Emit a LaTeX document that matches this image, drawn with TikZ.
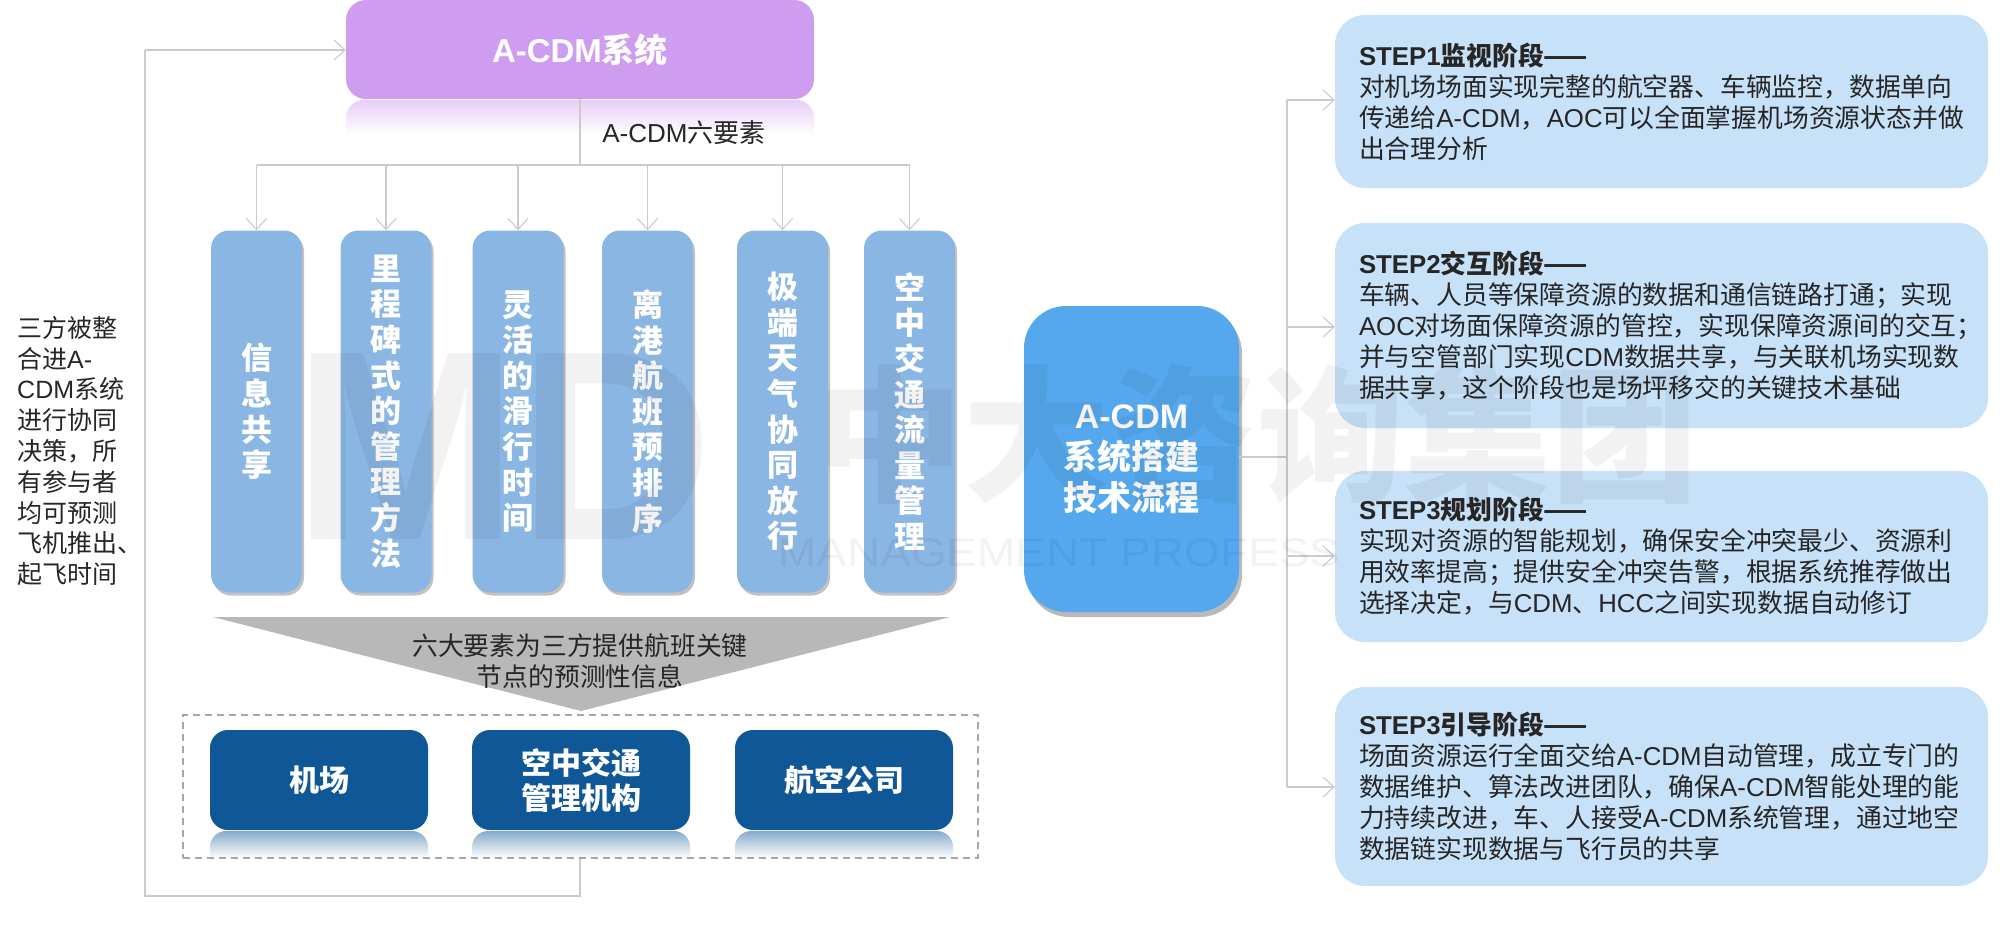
\documentclass[tikz,border=0pt]{standalone}
\usepackage{fontspec}
\setmainfont{Noto Sans CJK SC}
\newfontfamily\latinfont{Liberation Sans}
\newcommand{\lat}[1]{{\latinfont #1}}
\usetikzlibrary{arrows.meta,positioning,shadows,fadings}
\definecolor{linegray}{HTML}{CBCBCB}
\definecolor{topviolet}{HTML}{CE9DF0}
\definecolor{colblue}{HTML}{8AB6E3}
\definecolor{midblue}{HTML}{55A8EE}
\definecolor{navyblue}{HTML}{0F5796}
\definecolor{stepblue}{HTML}{C7E1F8}
\definecolor{inkgray}{HTML}{262626}
\tikzset{
    conn/.style={draw=linegray, line width=1.2pt},
    connarrow/.style={conn, -{Straight Barb[length=11pt,width=20pt,line width=1.1pt]}},
    columnbox/.style={rounded corners=18pt, fill=colblue, minimum width=91pt, minimum height=362pt,
        text=white, align=center, font=\fontsize{31}{35.6}\selectfont\bfseries,
        drop shadow={shadow xshift=2pt, shadow yshift=-3pt, fill=black!40, opacity=.6}},
    partybox/.style={rounded corners=18pt, fill=navyblue, minimum width=218pt, minimum height=100pt,
        text=white, align=center, font=\fontsize{30}{35}\selectfont\bfseries},
    stepbox/.style={rounded corners=30pt, fill=stepblue, minimum width=653pt},
    steptext/.style={align=left, inner sep=0pt, text=inkgray, font=\fontsize{25.8}{31}\selectfont},
    mirror/.style={fill=#1, path fading=south, fill opacity=.5},
    stamp/.style={inner sep=0pt, text=black, text opacity=.05, font=\latinfont\bfseries},
}
\begin{document}
\begin{tikzpicture}[x=1pt, y=-1pt]
    \useasboundingbox (0,0) rectangle (2000,931);
    % reflections under the boxes
    \fill[mirror=topviolet] (346,135) [rounded corners=18pt] -- (346,100) -- (814,100) [sharp corners] -- (814,135) -- cycle;
    \foreach \xa/\xb in {210/428, 472/690, 735/953} {
        \fill[mirror=navyblue] (\xa,858) [rounded corners=16pt] -- (\xa,831) -- (\xb,831) [sharp corners] -- (\xb,858) -- cycle;
    }
    % top box
    \node[rounded corners=20pt, fill=topviolet, minimum width=468pt, minimum height=99pt, text=white,
        font=\fontsize{33}{36}\selectfont\bfseries] (acdm) at (580,49.5) {\lat{A-CDM}系统};
    \node[text=inkgray, font=\fontsize{26}{30}\selectfont] (sixlabel) at (684,133) {\lat{A-CDM}六要素};
    % the six columns
    \foreach \name/\cx/\txt in {
        share/256.5/信\\息\\共\\享,
        mile/386/里\\程\\碑\\式\\的\\管\\理\\方\\法,
        taxi/518/灵\\活\\的\\滑\\行\\时\\间,
        depart/647.5/离\\港\\航\\班\\预\\排\\序,
        weather/782.5/极\\端\\天\\气\\协\\同\\放\\行,
        flow/909.5/空\\中\\交\\通\\流\\量\\管\\理
    } {
        \node[columnbox] (\name) at (\cx,411.5) {\txt};
    }
    \coordinate (rail) at (580,165);
    \draw[conn] (acdm.south) -- (rail);
    \draw[conn] (share.north |- rail) -- (flow.north |- rail);
    \foreach \name in {share, mile, taxi, depart, weather, flow} {
        \draw[connarrow] (\name.north |- rail) -- (\name.north);
    }
    % funnel
    \fill[black!28] (213,617) -- (950,617) -- (581,711) -- cycle;
    \node[text=inkgray, align=center, font=\fontsize{25.8}{31}\selectfont] (funneltext) at (580,661)
        {六大要素为三方提供航班关键\\节点的预测性信息};
    % the three parties
    \node[draw=black!35, dash pattern=on 7pt off 5pt, line width=1.4pt, minimum width=795pt, minimum height=143pt] (parties) at (580.5,786.5) {};
    \node[partybox] (airport) at (319,780) {机场};
    \node[partybox] (atc) at (581,780) {空中交通\\管理机构};
    \node[partybox] (airline) at (844,780) {航空公司};
    \coordinate (backa) at (580,896);
    \coordinate (backb) at (145,896);
    \coordinate (backc) at (145,50);
    \draw[conn] (parties.south -| backa) -- (backa) -- (backb) -- (backc);
    \draw[connarrow] (backc) -- (backc -| acdm.west);
    \node[anchor=north west, inner sep=0pt, align=left, text=inkgray, font=\fontsize{25}{30.8}\selectfont] (threeparty) at (17,316)
        {三方被整\\合进\lat{A-}\\\lat{CDM}系统\\进行协同\\决策，所\\有参与者\\均可预测\\飞机推出、\\起飞时间};
    % flow box
    \node[rounded corners=42pt, fill=midblue, minimum width=215pt, minimum height=306pt, text=white, align=center,
        font=\fontsize{34}{41}\selectfont\bfseries,
        drop shadow={shadow xshift=3pt, shadow yshift=-5pt, fill=black!45, opacity=.6}] (techflow) at (1131.5,459)
        {\lat{A-CDM}\\系统搭建\\技术流程};
    % the steps
    \node[stepbox, minimum height=173pt] (step1) at (1661.5,101.5) {};
    \node[stepbox, minimum height=205pt] (step2) at (1661.5,325.5) {};
    \node[stepbox, minimum height=171pt] (step3) at (1661.5,556.5) {};
    \node[stepbox, minimum height=199pt] (step4) at (1661.5,786.5) {};
    \node[steptext, right=24pt of step1.west] (text1)
        {\textbf{\lat{STEP1}监视阶段——}\\对机场场面实现完整的航空器、车辆监控，数据单向\\传递给\lat{A-CDM}，\lat{AOC}可以全面掌握机场资源状态并做\\出合理分析};
    \node[steptext, right=24pt of step2.west] (text2)
        {\textbf{\lat{STEP2}交互阶段——}\\车辆、人员等保障资源的数据和通信链路打通；实现\\\lat{AOC}对场面保障资源的管控，实现保障资源间的交互；\\并与空管部门实现\lat{CDM}数据共享，与关联机场实现数\\据共享，这个阶段也是场坪移交的关键技术基础};
    \node[steptext, right=24pt of step3.west] (text3)
        {\textbf{\lat{STEP3}规划阶段——}\\实现对资源的智能规划，确保安全冲突最少、资源利\\用效率提高；提供安全冲突告警，根据系统推荐做出\\选择决定，与\lat{CDM}、\lat{HCC}之间实现数据自动修订};
    \node[steptext, right=24pt of step4.west] (text4)
        {\textbf{\lat{STEP3}引导阶段——}\\场面资源运行全面交给\lat{A-CDM}自动管理，成立专门的\\数据维护、算法改进团队，确保\lat{A-CDM}智能处理的能\\力持续改进，车、人接受\lat{A-CDM}系统管理，通过地空\\数据链实现数据与飞行员的共享};
    \coordinate (spine) at (1287,457);
    \coordinate (spinetop) at (1287,100);
    \coordinate (spinelow) at (1287,787);
    \draw[conn] (techflow.east |- spine) -- (spine);
    \draw[conn] (spinetop) -- (spinelow);
    \draw[connarrow] (spinetop) -- (spinetop -| step1.west);
    \draw[connarrow] (1287,327) coordinate (spine2) -- (spine2 -| step2.west);
    \draw[connarrow] (1287,556) coordinate (spine3) -- (spine3 -| step3.west);
    \draw[connarrow] (spinelow) -- (spinelow -| step4.west);
    % watermark over everything
    \node[stamp, anchor=west, font=\fontsize{270}{270}\latinfont\bfseries] (stampmd) at (293,447) {MD};
    \node[stamp, anchor=west, font=\fontsize{147}{147}\selectfont\bfseries] (stampcn) at (816,434) {中大咨询集团};
    \node[stamp, anchor=west, xscale=1.15, font=\fontsize{40}{40}\latinfont] (stampen) at (778,553) {MANAGEMENT PROFESS};
\end{tikzpicture}
\end{document}
